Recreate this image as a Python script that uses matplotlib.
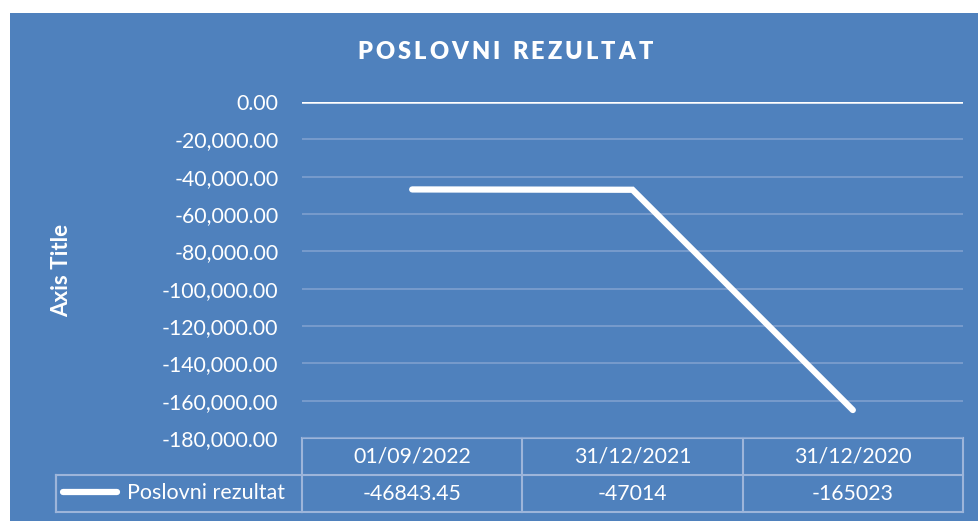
import matplotlib
matplotlib.use("Agg")
import matplotlib.pyplot as plt
from matplotlib.patches import Rectangle
from matplotlib.transforms import blended_transform_factory
from matplotlib.ticker import FuncFormatter

plt.rcParams['font.family'] = ['Lato', 'DejaVu Sans']

# ---- data ----
categories = ["01/09/2022", "31/12/2021", "31/12/2020"]
values = [-46843.45, -47014, -165023]
value_labels = ["-46843.45", "-47014", "-165023"]
series_name = "Poslovni rezultat"
title = "POSLOVNI REZULTAT"
y_title = "Axis Title"
y_min, y_max, y_step = -180000, 0, 20000

W, H = 979, 521
BG = '#4F81BD'
GRID = '#7FA0CF'
TABLE = '#9DB5DA'
FS = 15.3

fig = plt.figure(figsize=(W / 100, H / 100), dpi=100, facecolor='white')
fig.add_artist(Rectangle((10 / W, 0), (W - 10) / W, (H - 13) / H,
                         transform=fig.transFigure, facecolor=BG,
                         edgecolor='none', zorder=0))

# overlay in pixel coordinates (y down)
ov = fig.add_axes([0, 0, 1, 1], zorder=1)
ov.set_xlim(0, W)
ov.set_ylim(H, 0)
ov.axis('off')
ov.patch.set_alpha(0)

ax = fig.add_axes([302 / W, (H - 438) / H, 661 / W, 336 / H], zorder=2)
ax.patch.set_alpha(0)
x = list(range(len(categories)))
ax.set_xlim(-0.5, len(categories) - 0.5)
ax.set_ylim(y_min, y_max)
ax.set_yticks(list(range(y_min, y_max + 1, y_step)))
ax.yaxis.set_major_formatter(FuncFormatter(lambda v, p: f"{v:,.2f}"))
ax.tick_params(axis='y', length=0, pad=17, labelsize=FS, labelcolor='white')
ax.set_xticks([])
for s in ax.spines.values():
    s.set_visible(False)
ax.yaxis.grid(True, color=GRID, lw=1.2)
ax.set_axisbelow(True)
ax.axhline(0, color='white', lw=1.8, zorder=3)
ax.plot(x, values, color='white', lw=4.5, solid_capstyle='round',
        solid_joinstyle='miter', zorder=4)

# letter-spaced title
renderer = fig.canvas.get_renderer()
letters = []
widths = []
for ch in title:
    t = ov.text(0, 52, ch if ch != ' ' else 'I', color='white', fontsize=17,
                fontweight='heavy', ha='left', va='center')
    w = t.get_window_extent(renderer).width
    if ch == ' ':
        t.set_text(' ')
        w *= 0.9
    letters.append(t)
    widths.append(w)
target_w = 295
gap = (target_w - sum(widths)) / (len(title) - 1)
cx = 505 - target_w / 2
for t, w in zip(letters, widths):
    t.set_x(cx)
    cx += w + gap

ov.text(62, 270, y_title, color='white', fontsize=16, fontweight='bold',
        ha='center', va='center', rotation=90)

# data table
bt = blended_transform_factory(ax.transData, ov.transData)
edges = [i - 0.5 for i in range(len(categories) + 1)]
y_top, y_mid, y_bot = 438, 475, 512
lkw = dict(color=TABLE, lw=1.5, clip_on=False)
ov.plot([edges[0], edges[-1]], [y_top, y_top], transform=bt, **lkw)
for yy in (y_mid, y_bot):
    ov.plot([56, 56], [y_mid, y_bot], **lkw)
    ov.plot([56, 302], [yy, yy], **lkw)
    ov.plot([edges[0], edges[-1]], [yy, yy], transform=bt, **lkw)
for e in edges:
    ov.plot([e, e], [y_top, y_bot], transform=bt, **lkw)
for xi, c, vl in zip(x, categories, value_labels):
    ov.text(xi, (y_top + y_mid) / 2, c, transform=bt, color='white',
            fontsize=FS, ha='center', va='center')
    ov.text(xi, (y_mid + y_bot) / 2, vl, transform=bt, color='white',
            fontsize=FS, ha='center', va='center')
ov.plot([63, 117], [492, 492], color='white', lw=4.5, solid_capstyle='round')
ov.text(127, 493, series_name, color='white', fontsize=15.5, ha='left',
        va='center')

fig.savefig('out.png', dpi=100, facecolor='white')
